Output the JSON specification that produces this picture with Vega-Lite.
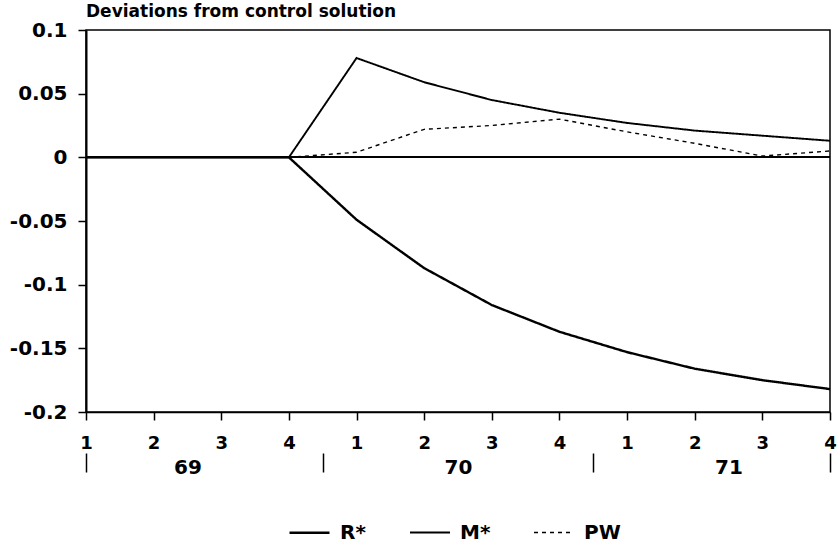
{
  "$schema": "https://vega.github.io/schema/vega-lite/v6.json",
  "width": 744,
  "height": 382,
  "autosize": "none",
  "padding": {"left": 86, "top": 30, "right": 7, "bottom": 133},
  "background": "white",
  "config": {
    "view": {"stroke": "black", "strokeWidth": 1.5},
    "font": "DejaVu Sans",
    "axis": {"domainColor": "black", "tickColor": "black", "labelColor": "black", "grid": false, "labelFont": "DejaVu Sans", "labelFontWeight": "bold", "title": null}
  },
  "title": {"text": "Deviations from control solution", "anchor": "start", "frame": "group", "font": "DejaVu Sans", "fontSize": 17, "fontWeight": "bold", "color": "black", "offset": -1},
  "data": {"values": [
    {"t": 1, "series": "R*", "value": 0}, {"t": 2, "series": "R*", "value": 0}, {"t": 3, "series": "R*", "value": 0}, {"t": 4, "series": "R*", "value": 0},
    {"t": 5, "series": "R*", "value": -0.049}, {"t": 6, "series": "R*", "value": -0.087}, {"t": 7, "series": "R*", "value": -0.116}, {"t": 8, "series": "R*", "value": -0.137},
    {"t": 9, "series": "R*", "value": -0.153}, {"t": 10, "series": "R*", "value": -0.166}, {"t": 11, "series": "R*", "value": -0.175}, {"t": 12, "series": "R*", "value": -0.182},
    {"t": 1, "series": "M*", "value": 0}, {"t": 2, "series": "M*", "value": 0}, {"t": 3, "series": "M*", "value": 0}, {"t": 4, "series": "M*", "value": 0},
    {"t": 5, "series": "M*", "value": 0.078}, {"t": 6, "series": "M*", "value": 0.059}, {"t": 7, "series": "M*", "value": 0.045}, {"t": 8, "series": "M*", "value": 0.035},
    {"t": 9, "series": "M*", "value": 0.027}, {"t": 10, "series": "M*", "value": 0.021}, {"t": 11, "series": "M*", "value": 0.017}, {"t": 12, "series": "M*", "value": 0.013},
    {"t": 4, "series": "PW", "value": 0},
    {"t": 5, "series": "PW", "value": 0.004}, {"t": 6, "series": "PW", "value": 0.022}, {"t": 7, "series": "PW", "value": 0.025}, {"t": 8, "series": "PW", "value": 0.030},
    {"t": 9, "series": "PW", "value": 0.020}, {"t": 10, "series": "PW", "value": 0.011}, {"t": 11, "series": "PW", "value": 0.001}, {"t": 12, "series": "PW", "value": 0.005}
  ]},
  "resolve": {"axis": {"x": "independent"}},
  "layer": [
    {
      "mark": {"type": "line", "color": "black"},
      "encoding": {
        "x": {"field": "t", "type": "quantitative", "scale": {"domain": [1, 12], "nice": false, "zero": false},
              "axis": {"orient": "bottom", "values": [1,2,3,4,5,6,7,8,9,10,11,12], "labelExpr": "'' + (((datum.value - 1) % 4) + 1)", "tickSize": 8, "tickWidth": 1.5, "domainWidth": 1.5, "labelPadding": 14, "labelFontSize": 18, "labelFlush": false, "labelOverlap": false}},
        "y": {"field": "value", "type": "quantitative", "scale": {"domain": [-0.2, 0.1], "nice": false, "zero": false},
              "axis": {"values": [0.1, 0.05, 0, -0.05, -0.1, -0.15, -0.2], "labelExpr": "'' + datum.value", "tickSize": 8, "tickWidth": 1.5, "domainWidth": 2, "labelPadding": 11, "labelFontSize": 20, "labelFlush": false, "labelOverlap": false}},
        "strokeDash": {"field": "series", "type": "nominal", "scale": {"domain": ["R*", "M*", "PW"], "range": [[1, 0], [1, 0], [4, 4]]},
              "legend": {"orient": "none", "legendX": 202, "legendY": 481, "direction": "horizontal", "title": null, "symbolType": "stroke", "symbolSize": 1600, "symbolStrokeColor": "black", "labelFont": "DejaVu Sans", "labelFontWeight": "bold", "labelFontSize": 20, "labelColor": "black", "columnPadding": 40, "labelOffset": 9, "padding": 0}},
        "strokeWidth": {"field": "series", "type": "nominal", "scale": {"domain": ["R*", "M*", "PW"], "range": [2.4, 1.4, 1.4]}}
      }
    },
    {
      "mark": {"type": "rule", "color": "black", "strokeWidth": 1.5},
      "encoding": {
        "x": {"datum": 1, "type": "quantitative",
              "axis": {"orient": "bottom", "offset": 41, "domain": false, "values": [1, 2.5, 4.5, 6.5, 8.5, 10.5, 12],
                       "labelExpr": "datum.value == 2.5 ? '69' : datum.value == 6.5 ? '70' : datum.value == 10.5 ? '71' : ''",
                       "tickSize": 19, "tickWidth": 1.5,
                       "tickOpacity": {"condition": {"test": "datum.value == 2.5 || datum.value == 6.5 || datum.value == 10.5", "value": 0}, "value": 1},
                       "labelPadding": -15, "labelFontSize": 20, "labelFlush": false, "labelOverlap": false}},
        "x2": {"datum": 12},
        "y": {"datum": 0, "type": "quantitative"}
      }
    }
  ]
}
